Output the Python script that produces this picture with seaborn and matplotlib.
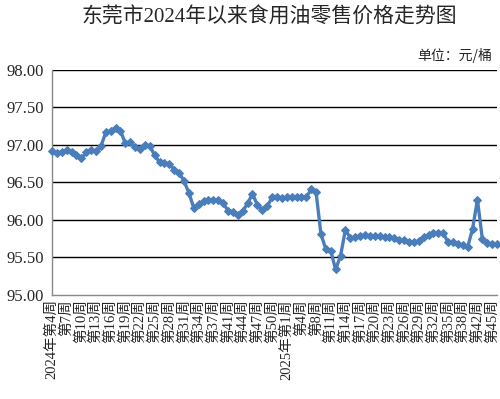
import matplotlib
matplotlib.use("Agg")
import matplotlib.pyplot as plt
import seaborn as sns
import pandas as pd
import numpy as np

years = [2024] * 48 + [2025] * 44
weeks = [4, 5, 6, 7, 8, 9, 10, 11, 12, 13, 14, 15, 16, 17, 18, 19, 20, 21, 22, 23,
         24, 25, 26, 27, 28, 29, 30, 31, 32, 33, 34, 35, 36, 37, 38, 39, 41, 42, 43, 44,
         45, 46, 47, 48, 49, 50, 51, 52,
         1, 2, 3, 4, 6, 7, 8, 9, 10, 11, 12, 13, 14, 15, 16, 17, 18, 19, 20, 21,
         22, 23, 24, 25, 26, 27, 28, 29, 30, 31, 32, 33, 34, 35, 36, 37, 38, 39, 41, 42,
         43, 44, 45, 46]
prices = [96.92, 96.89, 96.91, 96.93, 96.90, 96.86, 96.82, 96.90, 96.93, 96.92,
          96.98, 97.17, 97.19, 97.23, 97.19, 97.02, 97.04, 96.97, 96.94, 97.00,
          96.99, 96.86, 96.77, 96.76, 96.75, 96.67, 96.63, 96.52, 96.36, 96.16,
          96.21, 96.25, 96.26, 96.26, 96.26, 96.23, 96.12, 96.11, 96.07, 96.12,
          96.22, 96.35, 96.20, 96.13, 96.18, 96.30, 96.31, 96.29, 96.30, 96.31,
          96.31, 96.31, 96.30, 96.41, 96.37, 95.81, 95.61, 95.59, 95.34, 95.52,
          95.87, 95.76, 95.77, 95.79, 95.80, 95.79, 95.78, 95.78, 95.77, 95.77,
          95.76, 95.73, 95.73, 95.71, 95.70, 95.72, 95.77, 95.80, 95.82, 95.83,
          95.83, 95.70, 95.70, 95.68, 95.66, 95.64, 95.88, 96.27, 95.75, 95.69,
          95.68, 95.68]
y_ticks = [95.0, 95.5, 96.0, 96.5, 97.0, 97.5, 98.0]
title = "东莞市2024年以来食用油零售价格走势图"
unit = "单位：元/桶"

labels = []
prev_year = None
for y, w in zip(years, weeks):
    if y != prev_year:
        labels.append(f"{y}年第{w}周")
    else:
        labels.append(f"第{w}周")
    prev_year = y

df = pd.DataFrame({"idx": np.arange(len(prices)), "price": prices, "label": labels})

sns.set_theme(style="white")
plt.rcParams['font.family'] = ['Liberation Serif', 'Noto Sans CJK SC', 'DejaVu Sans']

fig = plt.figure(figsize=(5.0, 3.99), dpi=100)
ax = fig.add_axes([0.104, 0.2607, 0.890, 0.5639])

line_color = "#4a7ebb"
sns.lineplot(data=df, x="idx", y="price", ax=ax, color=line_color, linewidth=2.4,
             marker="D", markersize=4.5, markeredgecolor=line_color,
             markerfacecolor=line_color, clip_on=False, zorder=5)

ax.set_xlim(0, len(prices) - 1)
ax.set_ylim(95.0, 98.0)
ax.set_yticks(y_ticks)
ax.set_yticklabels([f"{v:.2f}" for v in y_ticks], fontsize=12,
                   family=['Liberation Serif', 'Noto Sans CJK SC'])
for v in y_ticks[1:]:
    ax.axhline(v, color="black", linewidth=1.0, zorder=1)

tick_pos = list(range(0, len(prices), 3))
ax.set_xticks(tick_pos)
ax.set_xticklabels([labels[i] for i in tick_pos], rotation=90, fontsize=10.5,
                   family=['Liberation Serif', 'Noto Sans CJK SC'])
ax.tick_params(axis="both", length=0)
ax.tick_params(axis="y", pad=6)
ax.tick_params(axis="x", pad=3)
ax.set_xlabel("")
ax.set_ylabel("")

for s in ["top", "right"]:
    ax.spines[s].set_visible(False)
for s in ["left", "bottom"]:
    ax.spines[s].set_color("#898989")
    ax.spines[s].set_linewidth(1.0)
ax.grid(False)

fig.text(0.538, 0.955, title, ha="center", va="center", fontsize=15,
         family=['Liberation Serif', 'Noto Sans CJK SC'])
fig.text(0.984, 0.862, unit, ha="right", va="center", fontsize=10,
         family=['Noto Sans CJK SC', 'DejaVu Sans'])

fig.savefig("out.png", dpi=100, facecolor="white")
